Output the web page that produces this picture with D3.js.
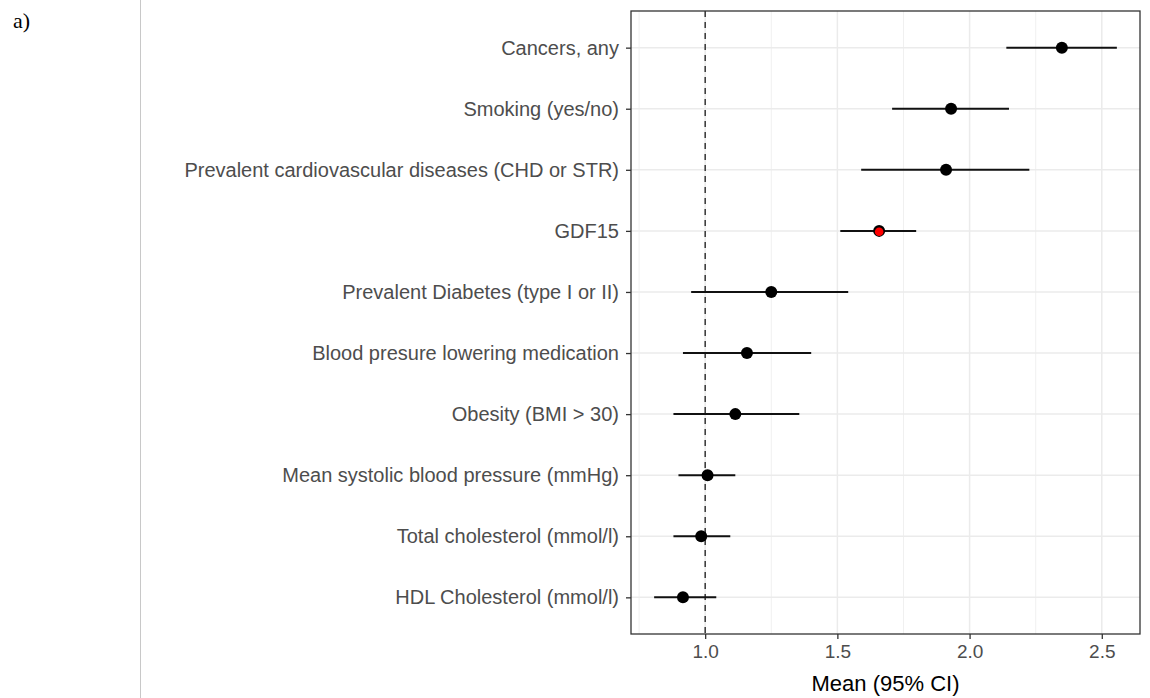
<!DOCTYPE html>
<html>
<head>
<meta charset="utf-8">
<script src="https://cdn.jsdelivr.net/npm/d3@7/dist/d3.min.js"></script>
<style>
  html, body { margin: 0; padding: 0; background: #fff; }
  svg { display: block; }
</style>
</head>
<body>
<svg id="chart" width="1150" height="698"></svg>
<script>
// Data (top to bottom)
const labels = [
  "Cancers, any",
  "Smoking (yes/no)",
  "Prevalent cardiovascular diseases (CHD or STR)",
  "GDF15",
  "Prevalent Diabetes (type I or II)",
  "Blood presure lowering medication",
  "Obesity (BMI > 30)",
  "Mean systolic blood pressure (mmHg)",
  "Total cholesterol (mmol/l)",
  "HDL Cholesterol (mmol/l)"
];
const means = [2.349, 1.930, 1.911, 1.658, 1.250, 1.158, 1.114, 1.009, 0.985, 0.916];
const lower = [2.139, 1.707, 1.590, 1.511, 0.947, 0.916, 0.880, 0.899, 0.880, 0.807];
const upper = [2.557, 2.149, 2.226, 1.798, 1.541, 1.401, 1.356, 1.114, 1.095, 1.042];
const highlight = ["GDF15"];
const xTicks = [1.0, 1.5, 2.0, 2.5];
const xMinor = [0.75, 1.25, 1.75, 2.25];
const refValue = 1.0;
const xTitle = "Mean (95% CI)";
const panelLabel = "a)";

const rows = labels.map((l, i) => ({label: l, mean: means[i], lo: lower[i], hi: upper[i]}));

const svg = d3.select("#chart");
const P = {left: 631, right: 1140, top: 11, bottom: 634};

const lo = d3.min(lower), hi = d3.max(upper), r = hi - lo;
const x = d3.scaleLinear().domain([lo - 0.05 * r, hi + 0.05 * r]).range([P.left, P.right]);
const y = d3.scalePoint().domain(labels).range([P.top, P.bottom]).padding(0.6);

// left separator line and panel label
svg.append("line").attr("x1", 140.5).attr("x2", 140.5).attr("y1", 0).attr("y2", 698)
  .attr("stroke", "#c8c8c8").attr("stroke-width", 1);
svg.append("text").attr("x", 13).attr("y", 28).text(panelLabel)
  .attr("font-family", "'Liberation Serif', 'Times New Roman', serif")
  .attr("font-size", 22).attr("fill", "#000");

const g = svg.append("g");

// grid
g.selectAll(".minor").data(xMinor).enter().append("line")
  .attr("x1", d => x(d)).attr("x2", d => x(d)).attr("y1", P.top).attr("y2", P.bottom)
  .attr("stroke", "#f0f0f0").attr("stroke-width", 1);
g.selectAll(".major").data(xTicks).enter().append("line")
  .attr("x1", d => x(d)).attr("x2", d => x(d)).attr("y1", P.top).attr("y2", P.bottom)
  .attr("stroke", "#ebebeb").attr("stroke-width", 1.5);
g.selectAll(".hgrid").data(labels).enter().append("line")
  .attr("x1", P.left).attr("x2", P.right).attr("y1", d => y(d)).attr("y2", d => y(d))
  .attr("stroke", "#ebebeb").attr("stroke-width", 1.5);

// reference line
g.append("line").attr("x1", x(refValue)).attr("x2", x(refValue)).attr("y1", P.top).attr("y2", P.bottom)
  .attr("stroke", "#1a1a1a").attr("stroke-width", 1.3).attr("stroke-dasharray", "6,5");

// error bars
g.selectAll(".ci").data(rows).enter().append("line")
  .attr("x1", d => x(d.lo)).attr("x2", d => x(d.hi))
  .attr("y1", d => y(d.label)).attr("y2", d => y(d.label))
  .attr("stroke", "#111").attr("stroke-width", 2);

// points
g.selectAll(".pt").data(rows).enter().append("circle")
  .attr("cx", d => x(d.mean)).attr("cy", d => y(d.label)).attr("r", 6)
  .attr("fill", "#000");
g.selectAll(".hl").data(rows.filter(d => highlight.includes(d.label))).enter().append("circle")
  .attr("cx", d => x(d.mean)).attr("cy", d => y(d.label) + 0.8).attr("r", 4.3)
  .attr("fill", "#ff0000");

// panel border
g.append("rect").attr("x", P.left).attr("y", P.top)
  .attr("width", P.right - P.left).attr("height", P.bottom - P.top)
  .attr("fill", "none").attr("stroke", "#333").attr("stroke-width", 1.3);

// axes
const font = "'Liberation Sans', Arial, sans-serif";
const xAxis = d3.axisBottom(x).tickValues(xTicks).tickFormat(d3.format(".1f")).tickSize(5).tickPadding(6);
const gx = svg.append("g").attr("transform", `translate(0,${P.bottom})`).call(xAxis);
gx.select(".domain").remove();
gx.selectAll(".tick line").attr("stroke", "#333").attr("stroke-width", 1.3);
gx.selectAll(".tick text").attr("fill", "#4d4d4d").attr("font-size", 19).attr("font-family", font);

const yAxis = d3.axisLeft(y).tickSize(5).tickPadding(7);
const gy = svg.append("g").attr("transform", `translate(${P.left},0)`).call(yAxis);
gy.select(".domain").remove();
gy.selectAll(".tick line").attr("stroke", "#333").attr("stroke-width", 1.3);
gy.selectAll(".tick text").attr("fill", "#4d4d4d").attr("font-size", 20).attr("font-family", font);

svg.append("text").attr("x", (P.left + P.right) / 2).attr("y", 691)
  .attr("text-anchor", "middle").attr("font-family", font).attr("font-size", 22)
  .attr("fill", "#000").text(xTitle);
</script>
</body>
</html>
